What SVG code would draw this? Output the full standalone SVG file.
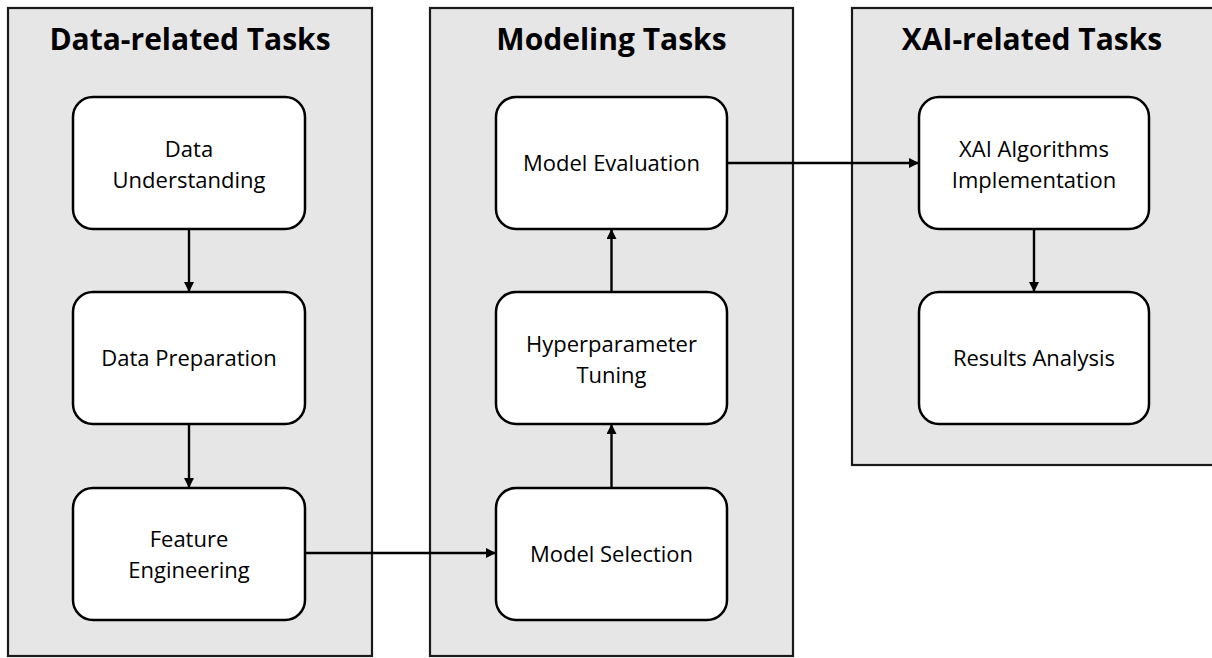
<svg xmlns="http://www.w3.org/2000/svg" width="1212" height="658" viewBox="0 0 1212 658">
<defs>
<marker id="ah" viewBox="0 0 10 10" refX="10" refY="5" markerWidth="11" markerHeight="10" markerUnits="userSpaceOnUse" orient="auto">
<path d="M0,0 L10,5 L0,10 Z" fill="#000"/>
</marker>
<style>
.panel{fill:#e6e6e6;stroke:#1a1a1a;stroke-width:2.2}
.node{fill:#fff;stroke:#000;stroke-width:2.5}
.title{font-family:"Open Sans","Liberation Sans",sans-serif;font-weight:bold;font-size:30px;fill:#000;text-anchor:middle}
.lbl{font-family:"Open Sans","Liberation Sans",sans-serif;font-size:22px;fill:#000;text-anchor:middle}
.conn{stroke:#000;stroke-width:2.4;fill:none;marker-end:url(#ah)}
</style>
</defs>
<rect width="1212" height="658" fill="#fff"/>
<g id="panel-data">
<rect class="panel" x="8" y="8" width="364" height="648"/>
<text class="title" x="190" y="50">Data-related Tasks</text>
</g>
<g id="panel-modeling">
<rect class="panel" x="430" y="8" width="363" height="648"/>
<text class="title" x="611.5" y="50">Modeling Tasks</text>
</g>
<g id="panel-xai">
<rect class="panel" x="852" y="8" width="370" height="457"/>
<text class="title" x="1032" y="50">XAI-related Tasks</text>
</g>
<g id="node-data-understanding">
<rect class="node" x="73" y="97" width="232" height="132" rx="20"/>
<text class="lbl" x="189" y="157">Data</text>
<text class="lbl" x="189" y="188">Understanding</text>
</g>
<g id="node-data-preparation">
<rect class="node" x="73" y="292" width="232" height="132" rx="20"/>
<text class="lbl" x="189" y="366">Data Preparation</text>
</g>
<g id="node-feature-engineering">
<rect class="node" x="73" y="488" width="232" height="132" rx="20"/>
<text class="lbl" x="189" y="547">Feature</text>
<text class="lbl" x="189" y="578">Engineering</text>
</g>
<g id="node-model-evaluation">
<rect class="node" x="496" y="97" width="231" height="132" rx="20"/>
<text class="lbl" x="611.5" y="171">Model Evaluation</text>
</g>
<g id="node-hyperparameter-tuning">
<rect class="node" x="496" y="292" width="231" height="132" rx="20"/>
<text class="lbl" x="611.5" y="352">Hyperparameter</text>
<text class="lbl" x="611.5" y="383">Tuning</text>
</g>
<g id="node-model-selection">
<rect class="node" x="496" y="488" width="231" height="132" rx="20"/>
<text class="lbl" x="611.5" y="562">Model Selection</text>
</g>
<g id="node-xai-algorithms">
<rect class="node" x="919" y="97" width="230" height="132" rx="20"/>
<text class="lbl" x="1034" y="157">XAI Algorithms</text>
<text class="lbl" x="1034" y="188">Implementation</text>
</g>
<g id="node-results-analysis">
<rect class="node" x="919" y="292" width="230" height="132" rx="20"/>
<text class="lbl" x="1034" y="366">Results Analysis</text>
</g>
<g id="connectors">
<line class="conn" x1="189" y1="229" x2="189" y2="292"/>
<line class="conn" x1="189" y1="424" x2="189" y2="488"/>
<line class="conn" x1="305" y1="553" x2="496" y2="553"/>
<line class="conn" x1="611.5" y1="488" x2="611.5" y2="424"/>
<line class="conn" x1="611.5" y1="292" x2="611.5" y2="229"/>
<line class="conn" x1="727" y1="163" x2="919" y2="163"/>
<line class="conn" x1="1034" y1="229" x2="1034" y2="292"/>
</g>
</svg>
